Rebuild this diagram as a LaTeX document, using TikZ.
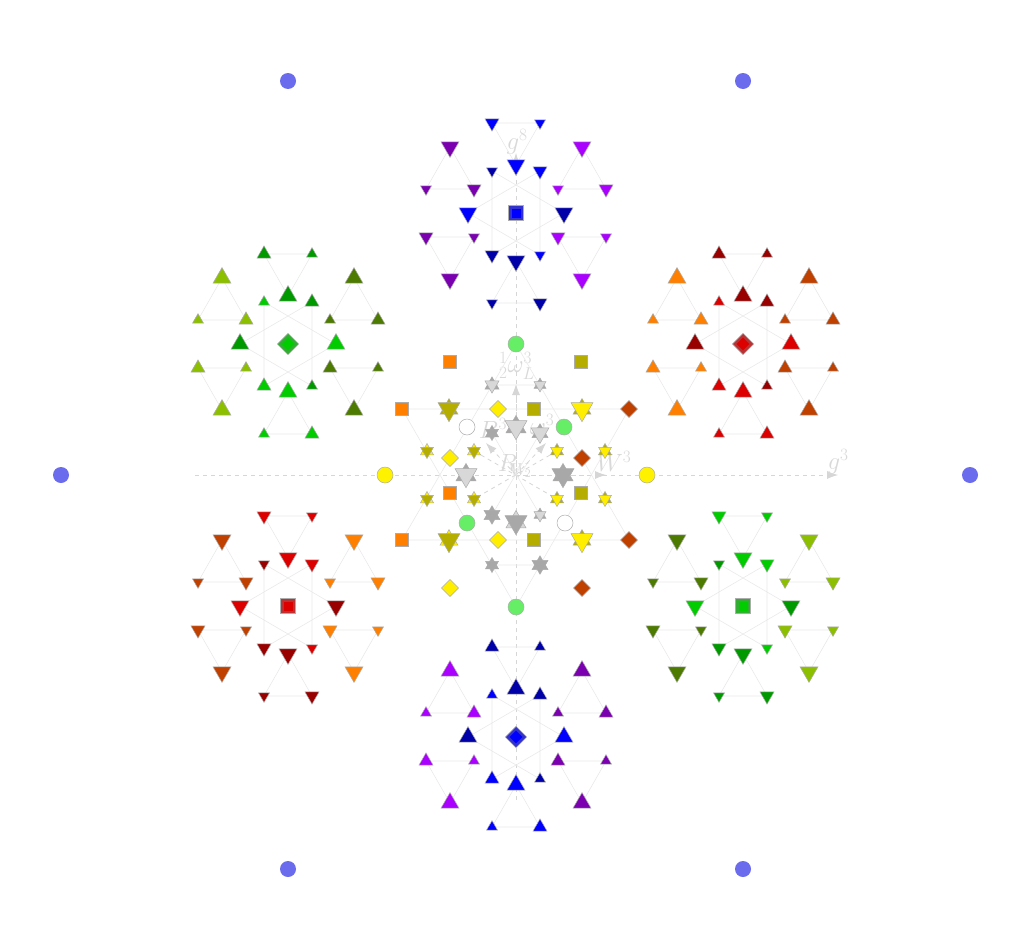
\documentclass[tikz,border=0pt]{standalone}
\usepackage{amsmath}
\usetikzlibrary{shapes.geometric,arrows.meta}

\definecolor{dotblue}{HTML}{6B6BEE}
\definecolor{eblue}{HTML}{0000FF}
\definecolor{edarkblue}{HTML}{0000A8}
\definecolor{epurple}{HTML}{7A00B0}
\definecolor{eviolet}{HTML}{AA00FF}
\definecolor{ered}{HTML}{DD0000}
\definecolor{edarkred}{HTML}{990000}
\definecolor{eorange}{HTML}{FF8000}
\definecolor{erust}{HTML}{C04000}
\definecolor{egreen}{HTML}{00CC00}
\definecolor{emidgreen}{HTML}{009900}
\definecolor{eyellowgreen}{HTML}{8CBF00}
\definecolor{eolivegreen}{HTML}{4D7A00}
\definecolor{higgs}{HTML}{66EE66}
\definecolor{eyellow}{HTML}{FFEE00}
\definecolor{eolive}{HTML}{B5AE00}
\definecolor{lgrey}{HTML}{D8D8D8}
\definecolor{mgrey}{HTML}{A8A8A8}
\definecolor{faint}{HTML}{EAEAEA}
\definecolor{axisgrey}{HTML}{D6D6D6}

\tikzset{
  particle/.style={draw=gray!65, line width=0.5pt, inner sep=0pt, outer sep=0pt},
  trimark/.style={particle, regular polygon, regular polygon sides=3, minimum size=#1*1.155pt},
  faintline/.style={draw=faint, line width=0.6pt},
  axisdash/.style={draw=axisgrey, line width=0.8pt, dash pattern=on 4pt off 4pt},
  axisarrow/.style={axisdash, -{Latex[length=11pt,width=8pt]}},
  lbl/.style={text=gray!30, font=\fontsize{24}{28}\selectfont, inner sep=0pt},
}

\begin{document}
\begin{tikzpicture}[x=1pt, y=-1pt]
\fill[white] (0,0) rectangle (1024,942);
\useasboundingbox (0,0) rectangle (1024,942);

% axes
\coordinate (origin) at (516,475);
\coordinate (g3tail) at (195,475);
\coordinate (g3tip) at (838,475);
\coordinate (g8tail) at (516,800);
\coordinate (g8tip) at (516,153);
\draw[axisarrow] (g3tail) -- (g3tip);
\draw[axisarrow] (g8tail) -- (g8tip);
\coordinate (wLtip) at (516,384);
\coordinate (Btip) at (486,443);
\coordinate (wRtip) at (546,443);
\coordinate (Wtip) at (606,475);
\foreach \t in {wLtip,Btip,wRtip,Wtip}
  \draw[axisarrow] (origin) -- (\t);
\draw[axisdash] (474,451) -- (557,499) (557,451) -- (474,499);

% labels
\node[lbl] (g8) at (517,142) {$g^8$};
\node[lbl] (g3) at (838,462) {$g^3$};
\node[lbl] (wL) at (517,366) {${}^{1}_{2}\omega^{3}_{L}$};
\node[lbl] (B3) at (493,428) {$B^3$};
\node[lbl] (wR) at (542,424) {$\omega^3$};
\node[lbl] (R2) at (515,466) {$R_{\!\!W_{\!2}}$};
\node[lbl] (W3) at (614,461) {$W^3$};

% central lattice
\draw[faintline] (516,344) -- (402,540) -- (629,540) -- cycle;
\draw[faintline] (516,607) -- (402,409) -- (629,409) -- cycle;
\draw[faintline] (492,385) -- (540,385) (492,565) -- (540,565)
  (492,433) -- (540,515) (540,433) -- (492,515);

% the six fermion clusters
\foreach \cx/\cy/\ca/\cb/\cc/\cd/\r/\cm/\cr in {
  516/213/eblue/edarkblue/epurple/eviolet/180/eblue/0,
  516/737/edarkblue/eblue/eviolet/epurple/0/eblue/45,
  288/344/emidgreen/egreen/eyellowgreen/eolivegreen/0/egreen/45,
  743/344/edarkred/ered/eorange/erust/0/ered/45,
  288/606/ered/edarkred/erust/eorange/180/ered/0,
  743/606/egreen/emidgreen/eolivegreen/eyellowgreen/180/egreen/0}
{
  \colorlet{cA}{\ca}\colorlet{cB}{\cb}\colorlet{cC}{\cc}\colorlet{cD}{\cd}
  \begin{scope}[shift={(\cx,\cy)}]
    \draw[faintline] (-24,-90) -- (24,-90) -- (0,-48) -- cycle
      (-66,-66) -- (-90,-24) -- (-42,-24) -- cycle
      (66,-66) -- (42,-24) -- (90,-24) -- cycle
      (-90,24) -- (-42,24) -- (-66,66) -- cycle
      (42,24) -- (90,24) -- (66,66) -- cycle
      (0,48) -- (-24,90) -- (24,90) -- cycle
      (-24,-42) -- (-24,42) (24,-42) -- (24,42)
      (-24,-42) -- (48,0) (24,-42) -- (-48,0)
      (-48,0) -- (24,42) (48,0) -- (-24,42);
    \foreach \dx/\dy/\s/\k in {
      -24/-90/14/A, 24/-90/11/A, 0/-48/18/A,
      -66/-66/18/C, -90/-24/11/C, -42/-24/14/C,
      66/-66/18/D, 42/-24/11/D, 90/-24/14/D,
      -24/-42/11/B, 24/-42/14/A, -48/0/18/A, 48/0/18/B,
      -90/24/14/C, -42/24/11/C, -66/66/18/C,
      42/24/14/D, 90/24/11/D, 66/66/18/D,
      -24/42/14/B, 24/42/11/A, 0/48/18/B,
      -24/90/11/B, 24/90/14/B}
      \node[trimark=\s, shape border rotate=\r, fill=c\k] at (\dx,\dy) {};
    \node[particle, rectangle, minimum size=15pt, rotate=\cr, fill=\cm!60!gray] at (0,0) {};
    \node[rectangle, inner sep=0pt, minimum size=9pt, rotate=\cr, fill=\cm] at (0,0) {};
  \end{scope}
}

% central stars
\foreach \x/\y/\uc/\us/\dc/\ds in {
  449/409/eolive/18/eolive/22, 582/409/eolive/18/eyellow/22,
  449/540/eyellow/18/eolive/22, 582/540/eolive/18/eyellow/22,
  427/451/eyellow/13/eolive/13, 474/451/eyellow/13/eolive/13,
  557/451/eolive/13/eyellow/13, 605/451/eolive/13/eyellow/13,
  427/499/eyellow/13/eolive/13, 474/499/eyellow/13/eolive/13,
  557/499/eolive/13/eyellow/13, 605/499/eolive/13/eyellow/13,
  492/385/mgrey/14/lgrey/14, 540/385/mgrey/12/lgrey/12,
  516/427/mgrey/20/lgrey/22, 492/433/mgrey/13/mgrey/13,
  540/433/mgrey/16/lgrey/18, 466/475/mgrey/20/lgrey/22,
  563/475/mgrey/20/mgrey/22, 492/515/mgrey/16/mgrey/16,
  516/522/lgrey/20/mgrey/22, 540/515/mgrey/12/lgrey/12,
  492/565/mgrey/13/mgrey/13, 540/565/mgrey/16/mgrey/16}
{
  \node[trimark=\us, fill=\uc] at (\x,\y) {};
  \node[trimark=\ds, fill=\dc, shape border rotate=180] at (\x,\y) {};
}

% central squares and diamonds
\foreach \x/\y/\c in {450/362/eorange, 402/409/eorange, 450/493/eorange, 402/540/eorange,
  581/362/eolive, 534/409/eolive, 581/493/eolive, 534/540/eolive}
  \node[particle, rectangle, minimum size=13pt, fill=\c] at (\x,\y) {};
\foreach \x/\y/\c in {498/409/eyellow, 450/458/eyellow, 498/540/eyellow, 450/588/eyellow,
  629/409/erust, 582/458/erust, 629/540/erust, 582/588/erust}
  \node[particle, rectangle, minimum size=12pt, rotate=45, fill=\c] at (\x,\y) {};

% scalars
\foreach \x/\y/\c in {516/344/higgs, 516/607/higgs, 564/427/higgs, 467/523/higgs,
  467/427/white, 565/523/white, 385/475/yellow, 647/475/yellow}
  \node[particle, circle, minimum size=16pt, fill=\c] at (\x,\y) {};

% outer ring
\foreach \x/\y in {288/81, 743/81, 61/475, 970/475, 288/869, 743/869}
  \fill[dotblue] (\x,\y) circle (8pt);
\end{tikzpicture}
\end{document}
